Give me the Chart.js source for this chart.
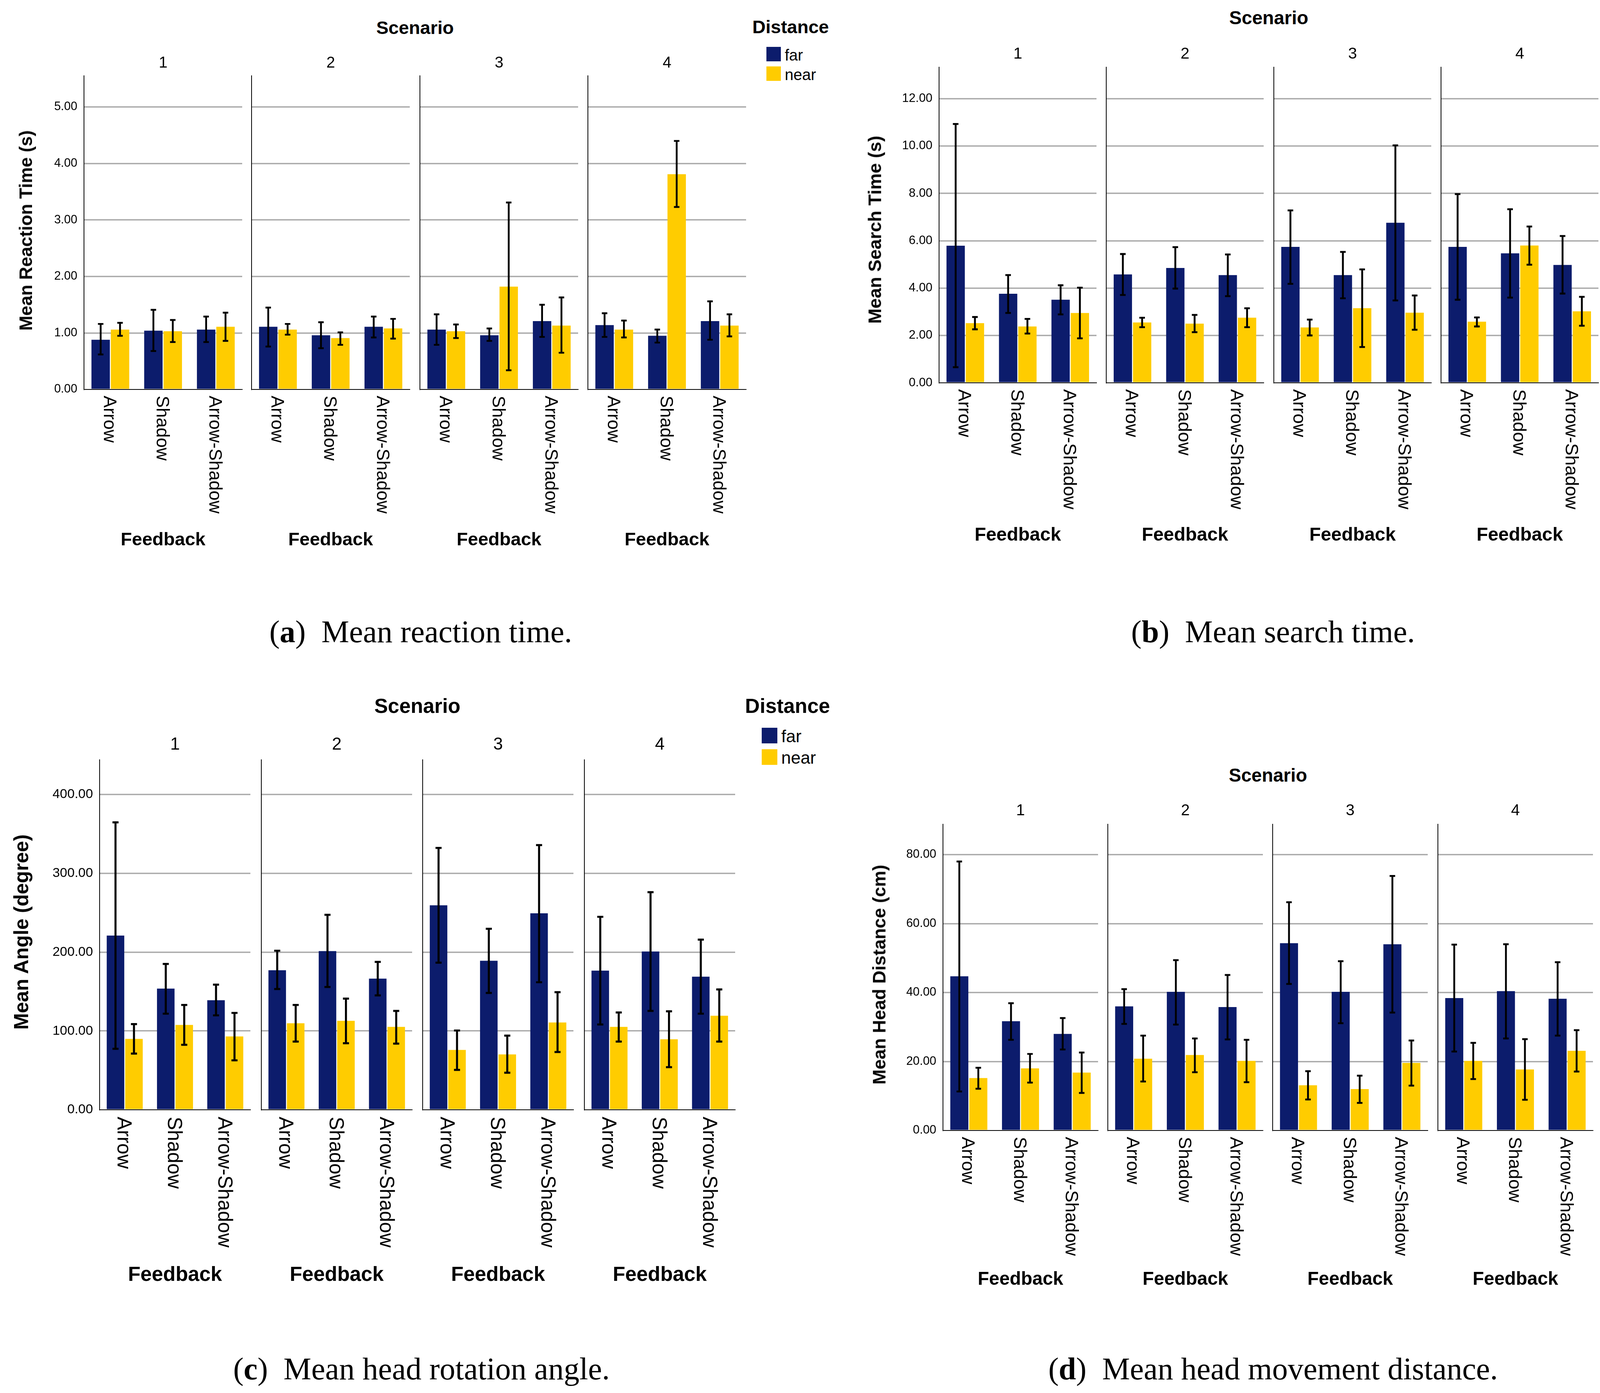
<!DOCTYPE html>
<html>
<head>
<meta charset="utf-8">
<script src="https://cdn.jsdelivr.net/npm/chart.js@4.4.1/dist/chart.umd.min.js"></script>
<style>
  body { margin: 0; width: 4320px; height: 3566px; background: #fff; position: relative; overflow: hidden;
         font-family: "Liberation Sans", Arial, sans-serif; color: #000; }
  .t { position: absolute; white-space: nowrap; line-height: 1; transform: translate(-50%, -50%); }
  .sw { position: absolute; }
  canvas { position: absolute; }
</style>
</head>
<body>
<script>
const scenarios = ["1", "2", "3", "4"];
const feedback = ["Arrow", "Shadow", "Arrow-Shadow"];
const distances = ["far", "near"];

// (a) mean reaction time (s) -- one row per scenario: Arrow, Shadow, Arrow-Shadow
const rtFar    = [[0.88, 1.04, 1.06], [1.11, 0.96, 1.11], [1.06, 0.96, 1.21], [1.14, 0.95, 1.21]];
const rtFarLo  = [[0.62, 0.68, 0.84], [0.76, 0.73, 0.92], [0.79, 0.86, 0.93], [0.93, 0.83, 0.88]];
const rtFarHi  = [[1.16, 1.41, 1.29], [1.45, 1.19, 1.29], [1.33, 1.08, 1.50], [1.35, 1.06, 1.56]];
const rtNear   = [[1.06, 1.03, 1.11], [1.06, 0.91, 1.08], [1.03, 1.82, 1.13], [1.06, 3.81, 1.13]];
const rtNearLo = [[0.95, 0.84, 0.86], [0.97, 0.79, 0.90], [0.91, 0.34, 0.65], [0.92, 3.23, 0.94]];
const rtNearHi = [[1.18, 1.23, 1.36], [1.16, 1.01, 1.25], [1.15, 3.31, 1.63], [1.22, 4.40, 1.33]];

// (b) mean search time (s)
const stFar    = [[5.79, 3.76, 3.51], [4.58, 4.85, 4.55], [5.74, 4.55, 6.76], [5.74, 5.47, 4.98]];
const stFarLo  = [[0.66, 2.95, 2.89], [3.71, 3.98, 3.66], [4.18, 3.57, 3.48], [3.51, 3.60, 3.77]];
const stFarHi  = [[10.93, 4.55, 4.12], [5.44, 5.73, 5.42], [7.28, 5.53, 10.03], [7.97, 7.33, 6.20]];
const stNear   = [[2.52, 2.38, 2.95], [2.55, 2.50, 2.75], [2.34, 3.15, 2.96], [2.58, 5.80, 3.02]];
const stNearLo = [[2.26, 2.08, 1.88], [2.35, 2.14, 2.35], [2.00, 1.51, 2.24], [2.38, 4.99, 2.41]];
const stNearHi = [[2.78, 2.70, 4.02], [2.75, 2.87, 3.15], [2.67, 4.79, 3.69], [2.76, 6.60, 3.63]];

// (c) mean head rotation angle (degree)
const angFar    = [[221, 153.7, 139], [177, 201.3, 166.4], [259.4, 189.1, 249.3], [176.5, 200.8, 168.9]];
const angFarLo  = [[77.4, 121.9, 119.8], [153.2, 155.8, 145.1], [186.6, 148.2, 161.8], [108.2, 125.4, 121.9]];
const angFarHi  = [[364.6, 185, 158.8], [201.8, 247.3, 187.6], [332.2, 229.6, 335.8], [244.8, 276.1, 215.9]];
const angNear   = [[90, 107.7, 93], [109.7, 112.8, 105.2], [75.9, 70.3, 110.7], [105.2, 89.5, 119.3]];
const angNearLo = [[71.3, 82.4, 62.7], [86.5, 84.4, 83.9], [50.6, 47, 73.3], [86.5, 54.1, 86.5]];
const angNearHi = [[108.7, 133, 122.9], [133, 141, 125.4], [100.6, 94.1, 149.2], [123.4, 124.9, 152.7]];

// (d) mean head movement distance (cm)
const hdFar    = [[44.7, 31.7, 28.0], [36.0, 40.2, 35.8], [54.3, 40.2, 54.0], [38.4, 40.4, 38.2]];
const hdFarLo  = [[11.3, 26.3, 23.5], [30.9, 30.7, 26.4], [42.5, 31.1, 34.2], [22.9, 26.7, 27.5]];
const hdFarHi  = [[78.0, 36.9, 32.6], [41.0, 49.4, 45.1], [66.2, 49.1, 73.8], [53.9, 54.0, 48.8]];
const hdNear   = [[15.2, 18.0, 16.8], [20.8, 21.9, 20.2], [13.1, 12.0, 19.6], [20.2, 17.7, 23.1]];
const hdNearLo = [[12.1, 13.9, 10.9], [14.2, 16.9, 14.0], [9.0, 8.0, 13.0], [14.9, 8.9, 17.1]];
const hdNearHi = [[18.2, 22.2, 22.6], [27.5, 26.7, 26.3], [17.2, 15.9, 26.1], [25.4, 26.5, 29.1]];

const FAR = "#0c1c6c";
const NEAR = "#ffcc00";
const SANS = '"Liberation Sans", Arial, sans-serif';
const SERIF = '"Liberation Serif", "Times New Roman", serif';

const panels = [
  { letter: "a", caption: "Mean reaction time.", yTitle: "Mean Reaction Time (s)",
    far: rtFar, farLo: rtFarLo, farHi: rtFarHi, near: rtNear, nearLo: rtNearLo, nearHi: rtNearHi,
    yMax: 5.553, yStep: 1, lefts: [215, 644, 1075, 1505], w: 405, top: 194, bottom: 997, fs: 1,
    titleX: 66, titleY: 590, scenY: 70, numY: 159, fbY: 1379,
    distX: 2024, distY: 68, swX: 1962, swY: [120, 170], sw: 37, legX: 2009, capX: 1077, capY: 1617 },
  { letter: "b", caption: "Mean search time.", yTitle: "Mean Search Time (s)",
    far: stFar, farLo: stFarLo, farHi: stFarHi, near: stNear, nearLo: stNearLo, nearHi: stNearHi,
    yMax: 13.33, yStep: 2, lefts: [2404, 2832, 3261, 3689], w: 403, top: 172, bottom: 980, fs: 1.02,
    titleX: 2240, titleY: 588, scenY: 46, numY: 136, fbY: 1368,
    distX: 4212, distY: 46, swX: 4156, swY: [98, 148], sw: 36.5, legX: 4201, capX: 3259, capY: 1617 },
  { letter: "c", caption: "Mean head rotation angle.", yTitle: "Mean Angle (degree)",
    far: angFar, farLo: angFarLo, farHi: angFarHi, near: angNear, nearLo: angNearLo, nearHi: angNearHi,
    yMax: 444, yStep: 100, lefts: [255, 669, 1082, 1496], w: 386, top: 1945, bottom: 2841, fs: 1.11,
    titleX: 55, titleY: 2386, scenY: 1807, numY: 1904, fbY: 3261,
    distX: 2016, distY: 1807, swX: 1950, swY: [1863, 1918], sw: 40, legX: 2000, capX: 1079, capY: 3504 },
  { letter: "d", caption: "Mean head movement distance.", yTitle: "Mean Head Distance (cm)",
    far: hdFar, farLo: hdFarLo, farHi: hdFarHi, near: hdNear, nearLo: hdNearLo, nearHi: hdNearHi,
    yMax: 88.8, yStep: 20, lefts: [2414, 2836, 3258, 3681], w: 397, top: 2110, bottom: 2894, fs: 1.01,
    titleX: 2251, titleY: 2495, scenY: 1985, numY: 2073, fbY: 3273,
    distX: 4198, distY: 1988, swX: 4140, swY: [2037, 2086], sw: 36, legX: 4185, capX: 3259, capY: 3504 }
];

Chart.defaults.font.family = SANS;
Chart.defaults.color = "#000";

// whiskers drawn from the dataset lo/hi arrays through the y scale
const errorBars = {
  id: "errorBars",
  afterDatasetsDraw(chart, args, opts) {
    const ctx = chart.ctx, y = chart.scales.y;
    ctx.save();
    ctx.strokeStyle = "#000";
    ctx.lineWidth = opts.width;
    chart.data.datasets.forEach((ds, d) => {
      chart.getDatasetMeta(d).data.forEach((bar, i) => {
        const hi = y.getPixelForValue(ds.hi[i]);
        const lo = y.getPixelForValue(ds.lo[i]);
        ctx.beginPath();
        ctx.moveTo(bar.x, hi); ctx.lineTo(bar.x, lo);
        ctx.moveTo(bar.x - opts.cap, hi); ctx.lineTo(bar.x + opts.cap, hi);
        ctx.moveTo(bar.x - opts.cap, lo); ctx.lineTo(bar.x + opts.cap, lo);
        ctx.stroke();
      });
    });
    ctx.restore();
  }
};

// category names turned clockwise under the axis
const catLabels = {
  id: "catLabels",
  afterDraw(chart, args, opts) {
    const ctx = chart.ctx, x = chart.scales.x, area = chart.chartArea;
    ctx.save();
    ctx.fillStyle = "#000";
    ctx.font = opts.size + "px " + SANS;
    ctx.textAlign = "left";
    ctx.textBaseline = "middle";
    chart.data.labels.forEach((lab, i) => {
      ctx.save();
      ctx.translate(x.getPixelForTick(i) - 4, area.bottom + opts.gap);
      ctx.rotate(Math.PI / 2);
      ctx.fillText(lab, 0, 0);
      ctx.restore();
    });
    ctx.restore();
  }
};

function txt(html, x, y, size, opt = {}) {
  const d = document.createElement("div");
  d.className = "t";
  d.innerHTML = html;
  d.style.left = x + "px";
  d.style.top = y + "px";
  d.style.fontSize = size + "px";
  if (opt.bold) d.style.fontWeight = "bold";
  if (opt.serif) d.style.fontFamily = SERIF;
  if (opt.rot) d.style.transform = "translate(-50%, -50%) rotate(-90deg)";
  if (opt.left) d.style.transform = "translate(0, -50%)";
  document.body.appendChild(d);
}

const WY = 150, PADT = 50, PADR = 10, PADB = 440;

function subplot(p, s) {
  const h = p.bottom - p.top;
  const cv = document.createElement("canvas");
  const cw = WY + p.w + PADR, ch = PADT + h + PADB;
  cv.width = cw; cv.height = ch;
  cv.style.width = cw + "px"; cv.style.height = ch + "px";
  cv.style.left = (p.lefts[s] - WY) + "px";
  cv.style.top = (p.top - PADT) + "px";
  document.body.appendChild(cv);

  new Chart(cv, {
    type: "bar",
    data: {
      labels: feedback,
      datasets: [
        { label: distances[0], data: p.far[s], lo: p.farLo[s], hi: p.farHi[s], backgroundColor: FAR },
        { label: distances[1], data: p.near[s], lo: p.nearLo[s], hi: p.nearHi[s], backgroundColor: NEAR }
      ]
    },
    options: {
      responsive: false,
      animation: false,
      devicePixelRatio: 1,
      layout: { padding: { left: 0, top: PADT, right: PADR, bottom: PADB } },
      datasets: { bar: { categoryPercentage: 0.735, barPercentage: 0.95 } },
      plugins: {
        legend: { display: false },
        tooltip: { enabled: false },
        errorBars: { width: 4.7 * p.fs, cap: 7 * p.fs },
        catLabels: { size: 46 * p.fs, gap: 16 * p.fs }
      },
      scales: {
        x: {
          ticks: { display: false },
          grid: { display: false, drawTicks: false },
          border: { color: "#000", width: 2 },
          afterFit: sc => { sc.height = 0; }
        },
        y: {
          min: 0, max: p.yMax,
          ticks: {
            display: s === 0, stepSize: p.yStep, includeBounds: false, padding: 17,
            font: { size: 30.5 * p.fs }, callback: v => v.toFixed(2)
          },
          grid: {
            drawTicks: false, lineWidth: 3.5,
            color: c => (c.tick && c.tick.value === 0) ? "rgba(0,0,0,0)" : "#ababab"
          },
          border: { color: "#000", width: 2 },
          afterFit: sc => { sc.width = WY; }
        }
      }
    },
    plugins: [errorBars, catLabels]
  });

  const cx = p.lefts[s] + p.w / 2;
  txt(scenarios[s], cx, p.numY, 40 * p.fs);
  txt("Feedback", cx, p.fbY, 47 * p.fs, { bold: true });
}

panels.forEach(p => {
  scenarios.forEach((_, s) => subplot(p, s));
  const mid = (p.lefts[0] + p.lefts[3] + p.w) / 2;
  txt("Scenario", mid, p.scenY, 47 * p.fs, { bold: true });
  txt(p.yTitle, p.titleX, p.titleY, 46 * p.fs, { bold: true, rot: true });
  txt("Distance", p.distX, p.distY, 47 * p.fs, { bold: true });
  distances.forEach((name, k) => {
    const sw = document.createElement("div");
    sw.className = "sw";
    sw.style.left = p.swX + "px";
    sw.style.top = p.swY[k] + "px";
    sw.style.width = p.sw + "px";
    sw.style.height = p.sw + "px";
    sw.style.background = k === 0 ? FAR : NEAR;
    document.body.appendChild(sw);
    txt(name, p.legX, p.swY[k] + p.sw / 2 + 2, 40 * p.fs, { left: true });
  });
  txt("(<b>" + p.letter + "</b>)&ensp;" + p.caption, p.capX, p.capY, 80, { serif: true });
});
</script>
</body>
</html>
